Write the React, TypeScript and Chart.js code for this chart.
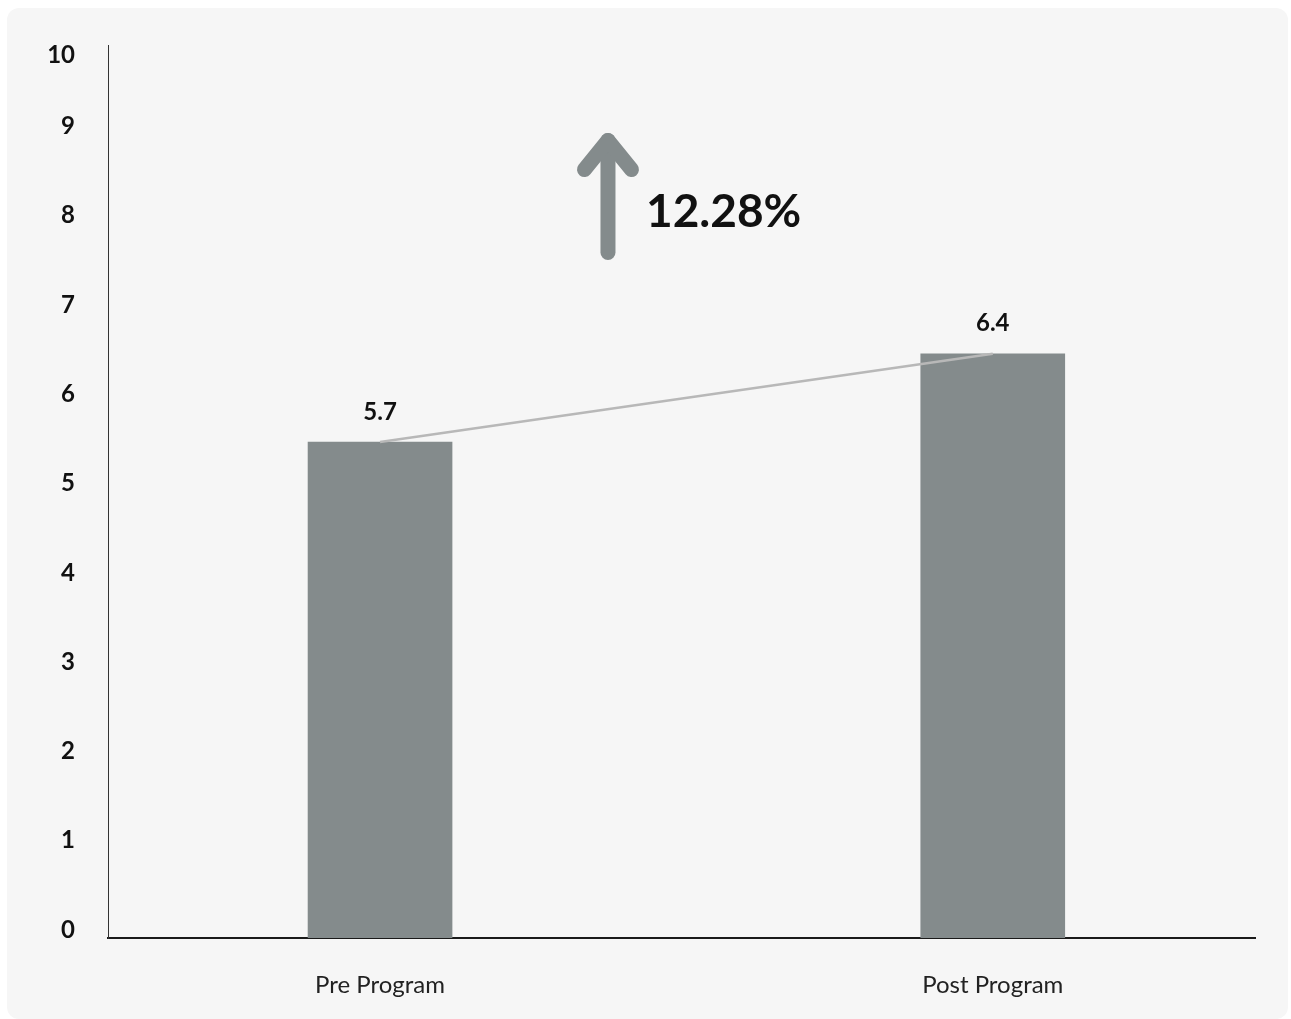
import React, { useEffect, useRef } from "react";
import { Chart, registerables } from "chart.js";

Chart.register(...registerables);

// ---- data ----
const categories = ["Pre Program", "Post Program"];
const scores = [5.7, 6.4];
const yTickValues = [0, 1, 2, 3, 4, 5, 6, 7, 8, 9, 10];

const FONT = "Lato, 'Open Sans', sans-serif";
const BAR_COLOR = "#848b8c";
const TEXT_COLOR = "#111111";

const yTickLabelsPlugin = {
  id: "yTickLabels",
  afterDraw(chart: any) {
    const { ctx, chartArea } = chart;
    const y = chart.scales.y;
    ctx.save();
    ctx.font = `bold 24px ${FONT}`;
    ctx.fillStyle = TEXT_COLOR;
    ctx.textAlign = "right";
    ctx.textBaseline = "middle";
    yTickValues.forEach((v) => {
      let py = y.getPixelForValue(v) - 8;
      py = Math.max(py, chartArea.top + 10);
      ctx.fillText(String(v), chartArea.left - 33, py);
    });
    ctx.restore();
  },
};

const valueLabelsPlugin = {
  id: "valueLabels",
  afterDatasetsDraw(chart: any) {
    const { ctx } = chart;
    chart.data.datasets.forEach((ds: any, di: number) => {
      if (ds.type !== "bar") return;
      const meta = chart.getDatasetMeta(di);
      ctx.save();
      ctx.font = `bold 24px ${FONT}`;
      ctx.fillStyle = TEXT_COLOR;
      ctx.textAlign = "center";
      ctx.textBaseline = "middle";
      meta.data.forEach((el: any, i: number) => {
        ctx.fillText(String(scores[i]), el.x, el.y - 30);
      });
      ctx.restore();
    });
  },
};

const changePlugin = {
  id: "changeArrow",
  afterDraw(chart: any) {
    const { ctx } = chart;
    const x = chart.scales.x;
    const y = chart.scales.y;
    const ax = x.getPixelForValue(0.372);
    const vy = y.getPixelForValue(8.93);
    ctx.save();
    ctx.strokeStyle = BAR_COLOR;
    ctx.lineWidth = 15;
    ctx.lineCap = "round";
    ctx.lineJoin = "round";
    ctx.beginPath();
    ctx.moveTo(ax, vy + 112);
    ctx.lineTo(ax, vy);
    ctx.stroke();
    ctx.beginPath();
    ctx.moveTo(ax - 23.5, vy + 29);
    ctx.lineTo(ax, vy);
    ctx.lineTo(ax + 23.5, vy + 29);
    ctx.stroke();
    const pct = (((scores[1] - scores[0]) / scores[0]) * 100).toFixed(2) + "%";
    ctx.font = `bold 46px ${FONT}`;
    ctx.fillStyle = TEXT_COLOR;
    ctx.textAlign = "left";
    ctx.textBaseline = "alphabetic";
    ctx.fillText(pct, ax + 38, vy + 86);
    ctx.restore();
  },
};

export default function App() {
  const canvasRef = useRef<HTMLCanvasElement | null>(null);

  useEffect(() => {
    if (!canvasRef.current) return;
    const points = scores.map((v, i) => ({ x: i, y: v }));
    const chart = new Chart(canvasRef.current, {
      type: "bar",
      data: {
        datasets: [
          {
            type: "line",
            data: points,
            yAxisID: "y2",
            borderColor: "#b8b8b8",
            borderWidth: 2.5,
            pointRadius: 0,
            order: 0,
          } as any,
          {
            type: "bar",
            data: points,
            yAxisID: "y2",
            backgroundColor: BAR_COLOR,
            barThickness: 144,
            order: 1,
          } as any,
        ],
      },
      options: {
        animation: false,
        responsive: false,
        layout: { padding: { top: 37, right: 33, left: 0, bottom: 0 } },
        plugins: { legend: { display: false }, tooltip: { enabled: false } },
        scales: {
          x: {
            type: "linear",
            offset: false,
            min: -0.444,
            max: 1.428,
            afterBuildTicks: (s: any) => {
              s.ticks = categories.map((_, i) => ({ value: i }));
            },
            afterFit: (s: any) => {
              s.height = 81;
            },
            ticks: {
              callback: (v: any) => categories[Math.round(Number(v))] ?? "",
              font: { family: FONT, size: 24 },
              color: "#222222",
              padding: 25,
              autoSkip: false,
              maxRotation: 0,
            },
            grid: { display: false },
            border: { display: true, color: "#1a1a1a", width: 2 },
          },
          y: {
            type: "linear",
            min: 0,
            max: 10,
            afterFit: (s: any) => {
              s.width = 101;
            },
            ticks: { display: false, stepSize: 1 },
            grid: { display: false },
            border: { display: true, color: "#333333", width: 1 },
          },
          y2: {
            type: "linear",
            display: false,
            min: 1.767,
            max: 8.848,
          },
        },
      } as any,
      plugins: [yTickLabelsPlugin, valueLabelsPlugin, changePlugin],
    });
    return () => chart.destroy();
  }, []);

  return (
    <div
      style={{
        position: "fixed",
        left: 7,
        top: 8,
        width: 1281,
        height: 1011,
        background: "#f6f6f6",
        borderRadius: 12,
        overflow: "hidden",
      }}
    >
      <canvas ref={canvasRef} width={1281} height={1011} style={{ display: "block" }} />
    </div>
  );
}
